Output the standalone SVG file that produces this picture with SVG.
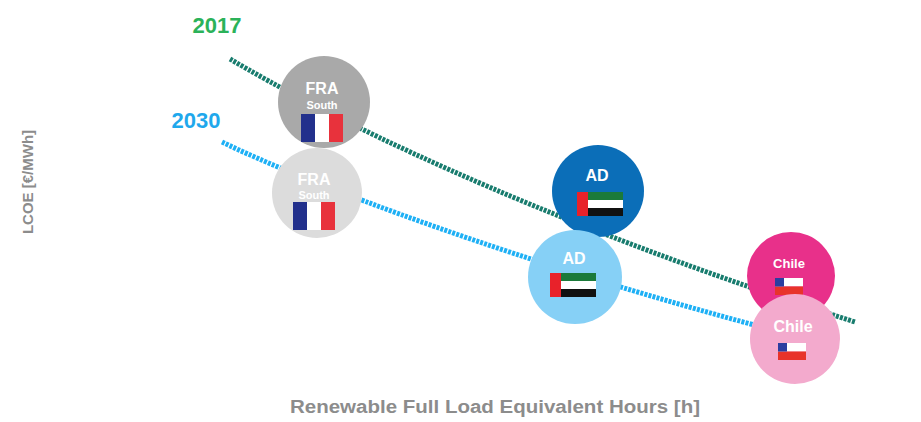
<svg xmlns="http://www.w3.org/2000/svg" width="921" height="422" viewBox="0 0 921 422">
<style>
.lbl{font-family:"Liberation Sans",Arial,sans-serif;font-weight:bold;text-anchor:middle;fill:#ffffff}
.axis{font-family:"Liberation Sans",Arial,sans-serif;font-weight:bold;fill:#8c8c8c}
.yr{font-family:"Liberation Sans",Arial,sans-serif;font-weight:bold;font-size:22px}
.ln{fill:none;stroke-width:5;stroke-dasharray:3 1.2}
</style>
<defs>
<g id="fr">
<rect x="0" y="0" width="14" height="28" fill="#22308c"/>
<rect x="14" y="0" width="14" height="28" fill="#ffffff"/>
<rect x="28" y="0" width="14" height="28" fill="#e8323c"/>
</g>
<g id="ae">
<rect x="0" y="0" width="46" height="8" fill="#1b7a3a"/>
<rect x="0" y="8" width="46" height="8" fill="#ffffff"/>
<rect x="0" y="16" width="46" height="8" fill="#111111"/>
<rect x="0" y="0" width="11" height="24" fill="#e8222a"/>
</g>
<g id="cl">
<rect x="0" y="0" width="28" height="8.5" fill="#ffffff"/>
<rect x="0" y="8.5" width="28" height="8.5" fill="#e8332a"/>
<rect x="0" y="0" width="9" height="8.5" fill="#2b3ea0"/>
</g>
</defs>
<text class="axis" x="495" y="413" font-size="18" text-anchor="middle" textLength="410" lengthAdjust="spacingAndGlyphs">Renewable Full Load Equivalent Hours [h]</text>
<text class="axis" font-size="15" text-anchor="middle" transform="translate(33,182) rotate(-90)" fill="#a0a0a0">LCOE [€/MWh]</text>
<text class="yr" x="217" y="33" fill="#2bb259" text-anchor="middle">2017</text>
<text class="yr" x="196" y="128" fill="#1fa8ec" text-anchor="middle">2030</text>
<g id="connectors">
<path class="ln" stroke="#187c6e" d="M230,59 C320,112 520,215 855,322"/>
<path class="ln" stroke="#1eb0f5" d="M222,142 C300,180 520,265 800,337"/>
</g>
<g id="fra2017">
<circle cx="324" cy="102" r="46" fill="#a9a9a9"/>
<text class="lbl" x="322" y="94" font-size="16">FRA</text>
<text class="lbl" x="322" y="109" font-size="11">South</text>
<use href="#fr" x="301" y="114"/>
</g>
<g id="ad2017">
<circle cx="598" cy="191" r="46" fill="#0b6eb8"/>
<text class="lbl" x="597" y="181" font-size="16">AD</text>
<use href="#ae" x="577" y="192"/>
</g>
<g id="chile2017">
<circle cx="791" cy="276" r="44" fill="#e8308a"/>
<text class="lbl" x="789" y="268" font-size="13">Chile</text>
<use href="#cl" x="775" y="278"/>
</g>
<g id="fra2030">
<circle cx="317" cy="193" r="45" fill="#dcdcdc"/>
<text class="lbl" x="314" y="185" font-size="16">FRA</text>
<text class="lbl" x="314" y="199" font-size="11">South</text>
<use href="#fr" x="293" y="202"/>
</g>
<g id="ad2030">
<circle cx="575" cy="277" r="47" fill="#86d0f6"/>
<text class="lbl" x="574" y="264" font-size="16">AD</text>
<use href="#ae" x="550" y="273"/>
</g>
<g id="chile2030">
<circle cx="795" cy="339" r="45" fill="#f3aacd"/>
<text class="lbl" x="793" y="332" font-size="16">Chile</text>
<use href="#cl" x="778" y="343"/>
</g>
</svg>
